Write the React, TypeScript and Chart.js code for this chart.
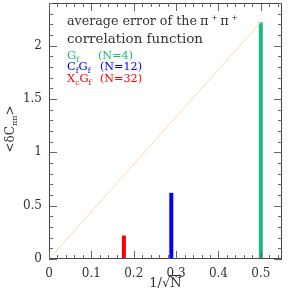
import React, { useEffect, useRef } from "react";
import { Chart, registerables } from "chart.js";

Chart.register(...registerables);

// ---- data ----
const invSqrtN = [0.5, 0.2887, 0.1768];
const avgError = [2.22, 0.62, 0.22];
const seriesColors = ["#1dbb7b", "#0000ff", "#ff0000"];
const refLineX = [0, 0.5];
const refLineY = [0, 2.22];
const xTickLabels = ["0", "0.1", "0.2", "0.3", "0.4", "0.5"];
const yTickLabels = ["0", "0.5", "1", "1.5", "2"];
const xRange = [0, 0.55];
const yRange = [0, 2.4];

const SERIF = "'DejaVu Serif', serif";
const TXT = "#333";

const decorPlugin = {
  id: "decor",
  afterDatasetsDraw(chart: any) {
    const { ctx, chartArea: a, scales } = chart;
    const xs = scales.x, ys = scales.y;
    ctx.save();
    // frame
    ctx.strokeStyle = "#444";
    ctx.lineWidth = 1;
    ctx.strokeRect(Math.round(a.left) + 0.5, Math.round(a.top) + 0.5, Math.round(a.right - a.left) - 1, Math.round(a.bottom - a.top) - 1);
    // ticks
    ctx.strokeStyle = "#666";
    ctx.beginPath();
    for (let i = 0; i <= 27; i++) {
      const v = i * 0.02;
      const px = Math.round(xs.getPixelForValue(v)) + 0.5;
      const len = i % 5 === 0 ? 8 : 4;
      ctx.moveTo(px, a.bottom);
      ctx.lineTo(px, a.bottom - len);
      ctx.moveTo(px, a.top);
      ctx.lineTo(px, a.top + len);
    }
    for (let i = 0; i <= 24; i++) {
      const v = i * 0.1;
      const py = Math.round(ys.getPixelForValue(v)) + 0.5;
      const len = i % 5 === 0 ? 8 : 4;
      ctx.moveTo(a.left, py);
      ctx.lineTo(a.left + len, py);
      ctx.moveTo(a.right, py);
      ctx.lineTo(a.right - len, py);
    }
    ctx.stroke();

    ctx.textBaseline = "alphabetic";
    ctx.textAlign = "left";

    // text fitted to a width
    const fitText = (t: string, x: number, y: number, w: number, font: string, color: string) => {
      ctx.font = font;
      ctx.fillStyle = color;
      const m = ctx.measureText(t).width;
      ctx.save();
      ctx.translate(x, y);
      ctx.scale(w / m, 1);
      ctx.fillText(t, 0, 0);
      ctx.restore();
    };
    // rich text: parts [text, mode] mode 0 normal, 1 sub, 2 sup
    const drawRich = (parts: [string, number][], x: number, y: number, color: string, size: number, small: number, gap = 0) => {
      ctx.fillStyle = color;
      let cx = x;
      for (const [t, mode] of parts) {
        ctx.font = mode ? `${small}px ${SERIF}` : `${size}px ${SERIF}`;
        const dy = mode === 1 ? 3 : mode === 2 ? -5 : 0;
        ctx.fillText(t, cx, y + dy);
        cx += ctx.measureText(t).width + gap;
      }
    };

    // annotation text
    const x0 = a.left + 18;
    const f1 = `13px ${SERIF}`;
    fitText("average error of the", x0, a.top + 22, 130, f1, TXT);
    drawRich([["π", 0], ["+", 2], ["π", 0], ["+", 2]], x0 + 133, a.top + 22, TXT, 13, 8, 2.5);
    fitText("correlation function", x0, a.top + 40, 136, f1, TXT);

    drawRich([["G", 0], ["f", 1]], x0, a.top + 55.5, seriesColors[0], 11.5, 7.5);
    fitText("(N=4)", x0 + 31, a.top + 55.5, 35, `11.5px ${SERIF}`, seriesColors[0]);
    drawRich([["C", 0], ["f", 1], ["G", 0], ["f", 1]], x0, a.top + 67, seriesColors[1], 11.5, 7.5);
    fitText("(N=12)", x0 + 33, a.top + 67, 42, `11.5px ${SERIF}`, seriesColors[1]);
    drawRich([["X", 0], ["c", 1], ["G", 0], ["f", 1]], x0, a.top + 78.5, seriesColors[2], 11.5, 7.5);
    fitText("(N=32)", x0 + 33, a.top + 78.5, 42, `11.5px ${SERIF}`, seriesColors[2]);

    // x title 1/√N
    ctx.fillStyle = TXT;
    ctx.font = `13px ${SERIF}`;
    const cxm = (a.left + a.right) / 2;
    const t1 = "1/", t2 = "√", t3 = "N";
    const w1 = ctx.measureText(t1).width, w2 = ctx.measureText(t2).width, w3 = ctx.measureText(t3).width;
    const sx = cxm - (w1 + w2 + w3) / 2;
    const by = 287;
    ctx.fillText(t1, sx, by);
    ctx.fillText(t2, sx + w1, by);
    ctx.fillText(t3, sx + w1 + w2, by);
    ctx.strokeStyle = TXT;
    ctx.beginPath();
    ctx.moveTo(sx + w1 + w2 - 1, by - 11.5);
    ctx.lineTo(sx + w1 + w2 + w3, by - 11.5);
    ctx.stroke();

    // y title <δCππ>
    ctx.translate(14, (a.top + a.bottom) / 2 - 2);
    ctx.rotate(-Math.PI / 2);
    const yParts: [string, boolean][] = [["<δC", false], ["ππ", true], [">", false]];
    let tw = 0;
    for (const [t, sub] of yParts) {
      ctx.font = sub ? `8px ${SERIF}` : `12px ${SERIF}`;
      tw += ctx.measureText(t).width;
    }
    let yx = -tw / 2;
    for (const [t, sub] of yParts) {
      ctx.font = sub ? `8px ${SERIF}` : `12px ${SERIF}`;
      ctx.fillText(t, yx, sub ? 3 : 0);
      yx += ctx.measureText(t).width;
    }
    ctx.restore();
  },
};

export default function App() {
  const ref = useRef<HTMLCanvasElement>(null);
  useEffect(() => {
    const datasets: any[] = [
      {
        data: refLineX.map((x, i) => ({ x, y: refLineY[i] })),
        borderColor: "#ffd8b0",
        borderWidth: 1,
        pointRadius: 0,
      },
    ];
    invSqrtN.forEach((x, i) => {
      datasets.push({
        data: [
          { x, y: 0 },
          { x, y: avgError[i] },
        ],
        borderColor: seriesColors[i],
        borderWidth: 4,
        borderCapStyle: "butt",
        pointRadius: 0,
      });
    });
    const chart = new Chart(ref.current!, {
      type: "line",
      data: { datasets },
      plugins: [decorPlugin],
      options: {
        animation: false,
        responsive: false,
        devicePixelRatio: 1,
        layout: { padding: { left: 0, top: 3, right: 9, bottom: 0 } },
        plugins: { legend: { display: false }, tooltip: { enabled: false } },
        scales: {
          x: {
            type: "linear",
            min: xRange[0],
            max: xRange[1],
            grid: { display: false, drawTicks: false },
            border: { display: false },
            ticks: {
              stepSize: 0.1,
              includeBounds: false,
              padding: 8,
              color: TXT,
              font: { family: "DejaVu Serif", size: 12 },
              maxRotation: 0,
              callback: (v: any) => {
                const i = Math.round(Number(v) * 10);
                return xTickLabels[i] ?? "";
              },
            },
            afterFit: (s: any) => {
              s.height = 32;
              s.paddingLeft = 0;
              s.paddingRight = 0;
            },
          },
          y: {
            type: "linear",
            min: yRange[0],
            max: yRange[1],
            grid: { display: false, drawTicks: false },
            border: { display: false },
            ticks: {
              stepSize: 0.5,
              includeBounds: false,
              padding: 7,
              color: TXT,
              font: { family: "DejaVu Serif", size: 12 },
              callback: (v: any) => {
                const i = Math.round(Number(v) * 2);
                return yTickLabels[i] ?? "";
              },
            },
            afterFit: (s: any) => {
              s.width = 49;
              s.paddingTop = 0;
              s.paddingBottom = 0;
            },
          },
        },
      } as any,
    });
    return () => chart.destroy();
  }, []);
  return (
    <div style={{ position: "fixed", left: 0, top: 0, width: 291, height: 291, background: "#fff" }}>
      <canvas ref={ref} width={291} height={291} style={{ width: 291, height: 291 }} />
    </div>
  );
}
